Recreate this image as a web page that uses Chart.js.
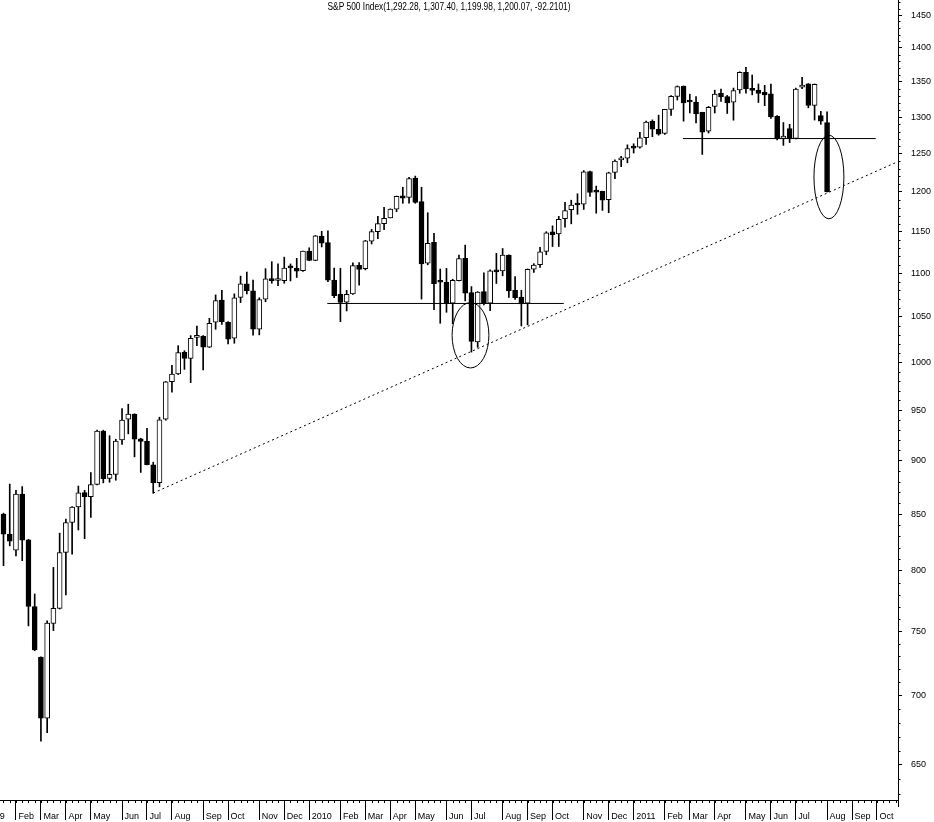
<!DOCTYPE html>
<html>
<head>
<meta charset="utf-8">
<script src="https://cdn.jsdelivr.net/npm/chart.js@4.4.0/dist/chart.umd.min.js"></script>
<style>
  html, body { margin: 0; padding: 0; background: #fff; }
  #chart { display: block; }
</style>
</head>
<body>
<canvas id="chart" width="934" height="822"></canvas>
<script>
// Weekly S&P 500 candles, week ending 23 Jan 2009 .. 5 Aug 2011 (index = week)
const opens = [
    850.1, 832.2, 818.0, 868.6, 827.0, 770.0, 729.6, 683.3, 756.2, 768.5,
    816.0, 842.5, 856.6, 869.9, 866.2, 877.5, 929.2, 883.2, 887.0, 920.3,
    940.9, 946.0, 921.4, 918.9, 896.1, 879.3, 940.9, 979.6, 987.6, 1010.8,
    1004.2, 1027.0, 1028.6, 1016.3, 1043.8, 1069.0, 1043.8, 1026.1, 1072.0, 1087.6,
    1079.4, 1036.0, 1069.8, 1093.5, 1091.5, 1091.4, 1106.9, 1105.7, 1103.1, 1126.5,
    1115.1, 1144.6, 1136.6, 1092.0, 1075.6, 1066.5, 1075.9, 1109.4, 1105.4, 1138.4,
    1150.0, 1159.9, 1167.2, 1178.2, 1194.9, 1193.1, 1218.0, 1187.6, 1111.9, 1137.0,
    1090.0, 1089.5, 1065.2, 1091.4, 1117.7, 1077.5, 1022.1, 1078.6, 1065.2, 1102.7,
    1102.7, 1121.6, 1080.0, 1072.2, 1065.2, 1104.7, 1110.0, 1126.0, 1149.7, 1147.3,
    1166.1, 1177.4, 1185.7, 1184.5, 1226.5, 1201.6, 1200.6, 1190.0, 1225.2, 1241.8,
    1244.0, 1258.7, 1258.7, 1271.8, 1294.0, 1283.0, 1277.6, 1310.8, 1329.2, 1343.8,
    1322.2, 1320.9, 1306.6, 1280.6, 1315.0, 1333.6, 1328.9, 1321.0, 1338.3, 1363.7,
    1340.7, 1338.3, 1335.0, 1332.7, 1301.2, 1270.7, 1284.0, 1270.7, 1342.2, 1347.0,
    1316.4, 1302.0, 1292.28
];
const highs = [
    851.0, 877.9, 872.0, 875.5, 827.5, 780.5, 729.8, 758.3, 803.0, 833.0,
    845.6, 857.0, 876.0, 872.0, 888.7, 930.2, 930.0, 924.5, 921.0, 951.7,
    956.2, 946.5, 922.0, 931.9, 898.7, 943.0, 979.8, 996.7, 1018.0, 1012.5,
    1029.0, 1039.5, 1029.0, 1048.2, 1074.8, 1080.0, 1044.5, 1076.0, 1096.6, 1101.4,
    1092.0, 1071.5, 1105.4, 1113.7, 1111.0, 1119.1, 1111.0, 1117.7, 1126.5, 1130.4,
    1145.4, 1150.5, 1151.0, 1106.0, 1105.9, 1080.0, 1112.4, 1112.5, 1139.4, 1153.0,
    1169.2, 1180.5, 1178.5, 1194.7, 1206.0, 1219.0, 1220.5, 1206.0, 1173.6, 1148.0,
    1105.0, 1105.7, 1093.0, 1121.7, 1133.6, 1084.4, 1078.6, 1100.6, 1103.9, 1123.7,
    1129.5, 1122.0, 1096.0, 1080.0, 1105.1, 1111.3, 1130.8, 1150.0, 1157.2, 1169.0,
    1186.7, 1189.4, 1197.6, 1227.7, 1227.0, 1207.5, 1201.0, 1225.6, 1241.8, 1246.7,
    1262.0, 1263.4, 1279.0, 1294.5, 1296.1, 1302.7, 1311.0, 1330.4, 1344.1, 1344.0,
    1332.3, 1328.9, 1306.8, 1315.0, 1338.0, 1339.5, 1330.5, 1341.0, 1364.6, 1371.0,
    1359.8, 1346.9, 1345.0, 1346.9, 1302.0, 1292.5, 1290.0, 1341.0, 1356.5, 1347.5,
    1347.0, 1308.0, 1307.40
];
const lows = [
    804.5, 821.7, 813.0, 808.8, 754.3, 734.5, 666.8, 672.9, 750.5, 768.0,
    779.8, 814.5, 835.8, 828.0, 847.1, 877.0, 879.0, 879.6, 881.5, 916.0,
    926.3, 903.8, 888.9, 896.0, 869.3, 875.3, 940.0, 968.7, 987.0, 992.5,
    978.5, 1018.0, 992.0, 1016.0, 1036.0, 1041.5, 1020.0, 1020.6, 1066.0, 1075.9,
    1029.4, 1029.8, 1067.0, 1088.3, 1085.5, 1088.3, 1091.0, 1095.0, 1102.0, 1114.8,
    1114.8, 1131.4, 1090.2, 1071.6, 1044.5, 1056.5, 1075.5, 1086.0, 1104.0, 1135.0,
    1141.5, 1152.5, 1167.0, 1175.0, 1185.5, 1185.5, 1185.5, 1070.0, 1110.0, 1058.0,
    1042.7, 1055.0, 1042.2, 1091.0, 1068.0, 1011.0, 1016.2, 1063.3, 1056.9, 1088.0,
    1097.0, 1072.0, 1069.5, 1039.7, 1040.9, 1101.0, 1107.0, 1122.0, 1131.9, 1131.9,
    1155.7, 1159.7, 1171.7, 1177.7, 1194.1, 1173.0, 1176.5, 1173.6, 1217.0, 1232.9,
    1238.0, 1251.0, 1257.6, 1262.7, 1273.0, 1275.1, 1276.0, 1302.3, 1324.0, 1294.3,
    1305.7, 1292.0, 1249.1, 1278.0, 1305.7, 1322.0, 1305.0, 1295.7, 1333.6, 1333.6,
    1331.3, 1320.5, 1316.0, 1298.0, 1268.6, 1261.3, 1265.0, 1270.0, 1340.0, 1313.0,
    1295.9, 1290.0, 1199.98
];
const closes = [
    832.0, 825.9, 868.6, 826.8, 770.1, 735.1, 683.4, 756.6, 768.5, 815.9,
    842.5, 856.6, 869.6, 866.2, 877.5, 929.2, 882.9, 887.0, 919.1, 940.1,
    946.2, 921.2, 918.9, 896.4, 879.1, 940.4, 979.3, 987.5, 1010.5, 1004.1,
    1026.1, 1028.9, 1016.4, 1042.7, 1068.3, 1044.4, 1025.2, 1071.5, 1087.7, 1079.6,
    1036.2, 1069.3, 1093.5, 1091.4, 1092.0, 1106.0, 1106.4, 1102.5, 1126.5, 1115.1,
    1145.0, 1136.0, 1091.8, 1073.9, 1066.2, 1075.5, 1109.2, 1104.5, 1138.7, 1150.0,
    1159.9, 1166.6, 1178.1, 1194.4, 1192.1, 1217.3, 1186.7, 1110.9, 1135.7, 1087.7,
    1089.4, 1064.9, 1091.6, 1117.5, 1076.8, 1022.6, 1078.0, 1064.9, 1102.7, 1101.6,
    1121.6, 1079.3, 1071.7, 1064.6, 1104.5, 1109.6, 1125.6, 1148.7, 1146.2, 1165.2,
    1176.2, 1183.1, 1183.3, 1225.9, 1199.2, 1199.7, 1189.4, 1224.7, 1240.4, 1243.9,
    1256.8, 1257.6, 1271.5, 1293.2, 1283.4, 1276.3, 1310.9, 1329.2, 1343.0, 1319.9,
    1321.2, 1304.3, 1279.2, 1313.8, 1332.4, 1328.2, 1319.7, 1337.4, 1363.6, 1340.2,
    1337.8, 1333.3, 1331.1, 1300.2, 1271.0, 1273.9, 1270.7, 1339.7, 1345.4, 1316.4,
    1346.5, 1294.3, 1200.07
];

// Time axis labels (week index -> label)
const monthTicks  = [-3, 2, 6, 10, 14, 19, 23, 27, 32, 36, 41, 45,
                     49, 54, 58, 62, 66, 71, 75, 80, 84, 88, 93, 97,
                     101, 106, 110, 114, 119, 123, 127, 132, 136, 140];
const monthLabels = ['2009', 'Feb', 'Mar', 'Apr', 'May', 'Jun', 'Jul', 'Aug', 'Sep', 'Oct', 'Nov', 'Dec',
                     '2010', 'Feb', 'Mar', 'Apr', 'May', 'Jun', 'Jul', 'Aug', 'Sep', 'Oct', 'Nov', 'Dec',
                     '2011', 'Feb', 'Mar', 'Apr', 'May', 'Jun', 'Jul', 'Aug', 'Sep', 'Oct'];

// Price axis labels
const priceTicks = [650, 700, 750, 800, 850, 900, 950, 1000, 1050, 1100,
                    1150, 1200, 1250, 1300, 1350, 1400, 1450];

// Hand drawn annotations (week index / price)
const supportLines = [
    { from: 51.9, to: 89.8, price: 1065 },
    { from: 108.9, to: 139.8, price: 1270.5 }
];
const trendLine = [{ x: 24, y: 869.5 }, { x: 143.2, y: 1239 }];
const circles = [
    { from: 71.9, to: 77.8, top: 1066, bottom: 994 },
    { from: 129.9, to: 134.7, top: 1275, bottom: 1166 }
];

const titleText = 'S&P 500 Index(1,292.28, 1,307.40, 1,199.98, 1,200.07, -92.2101)';
const axisFont = { family: '"Liberation Sans", Arial, sans-serif', size: 9 };

// Extra drawing: circles, minor ticks, title
const extras = {
    id: 'extras',
    afterDatasetsDraw(chart) {
        const ctx = chart.ctx;
        const xs = chart.scales.x;
        const ys = chart.scales.y;
        const area = chart.chartArea;
        ctx.save();
        ctx.strokeStyle = '#000';
        ctx.lineWidth = 1;

        circles.forEach(c => {
            const x0 = xs.getPixelForValue(c.from), x1 = xs.getPixelForValue(c.to);
            const y0 = ys.getPixelForValue(c.top), y1 = ys.getPixelForValue(c.bottom);
            ctx.beginPath();
            ctx.ellipse((x0 + x1) / 2, (y0 + y1) / 2, (x1 - x0) / 2, (y1 - y0) / 2, 0, 0, Math.PI * 2);
            ctx.stroke();
        });

        ctx.beginPath();
        // weekly ticks under the time axis
        for (let i = Math.ceil(xs.min); i <= xs.max; i++) {
            const px = Math.round(xs.getPixelForValue(i)) + 0.5;
            ctx.moveTo(px, area.bottom);
            ctx.lineTo(px, area.bottom + 3);
        }
        // minor price ticks every 10 points
        for (let v = 630; v <= 1470; v += 10) {
            if (v % 50 === 0) continue;
            const py = Math.round(ys.getPixelForValue(v)) + 0.5;
            ctx.moveTo(area.right, py);
            ctx.lineTo(area.right + 2.5, py);
        }
        ctx.moveTo(area.right + 0.5, area.bottom);
        ctx.lineTo(area.right + 0.5, area.bottom + 7);
        ctx.stroke();

        ctx.fillStyle = '#000';
        ctx.font = '10px "Liberation Sans", Arial, sans-serif';
        ctx.textAlign = 'center';
        ctx.textBaseline = 'middle';
        ctx.fillText(titleText, area.right / 2, 7, 243);
        ctx.restore();
    }
};

const lineStyle = { type: 'line', borderColor: '#000', borderWidth: 1, pointRadius: 0, fill: false, order: 1 };

new Chart(document.getElementById('chart'), {
    type: 'bar',
    data: {
        datasets: [
            Object.assign({ data: trendLine, borderDash: [2, 3] }, lineStyle),
            ...supportLines.map(l => Object.assign({
                data: [{ x: l.from, y: l.price }, { x: l.to, y: l.price }]
            }, lineStyle)),
            {
                label: 'wicks',
                data: lows.map((l, i) => ({ x: i, y: [l, highs[i]] })),
                backgroundColor: '#000',
                borderWidth: 0,
                barThickness: 1,
                grouped: false,
                order: 3
            },
            {
                label: 'bodies',
                data: opens.map((o, i) => ({ x: i, y: [o, closes[i]] })),
                backgroundColor: opens.map((o, i) => closes[i] >= o ? '#fff' : '#000'),
                borderColor: '#000',
                borderWidth: 1,
                borderSkipped: false,
                barThickness: 5,
                minBarLength: 2,
                grouped: false,
                order: 2
            }
        ]
    },
    options: {
        responsive: false,
        animation: false,
        devicePixelRatio: 1,
        layout: { autoPadding: false, padding: 0 },
        plugins: {
            legend: { display: false },
            tooltip: { enabled: false }
        },
        scales: {
            x: {
                type: 'linear',
                min: -0.56,
                max: 143.37,
                offset: false,
                afterBuildTicks: s => { s.ticks = monthTicks.map(v => ({ value: v })); },
                afterFit: s => { s.height = 22; s.paddingLeft = 0; s.paddingRight = 0; },
                grid: { offset: false, drawOnChartArea: false, drawTicks: true, tickLength: 20, color: '#000', tickColor: '#000' },
                border: { display: true, color: '#000', width: 1 },
                ticks: {
                    autoSkip: false,
                    maxRotation: 0,
                    minRotation: 0,
                    align: 'start',
                    padding: -9,
                    color: '#000',
                    font: axisFont,
                    callback: v => {
                        const k = monthTicks.indexOf(v);
                        return k > 0 ? ' ' + monthLabels[k] : (monthLabels[k] || '');
                    }
                }
            },
            y: {
                type: 'logarithmic',
                position: 'right',
                min: 626.1,
                max: 1473.5,
                afterBuildTicks: s => { s.ticks = priceTicks.map(v => ({ value: v })); },
                afterFit: s => { s.width = 36; s.paddingTop = 0; s.paddingBottom = 0; },
                grid: { drawOnChartArea: false, drawTicks: true, tickLength: 4, color: '#000', tickColor: '#000' },
                border: { display: true, color: '#000', width: 1 },
                ticks: {
                    padding: 9,
                    color: '#000',
                    font: axisFont,
                    callback: v => String(v)
                }
            }
        }
    },
    plugins: [extras]
});
</script>
</body>
</html>
